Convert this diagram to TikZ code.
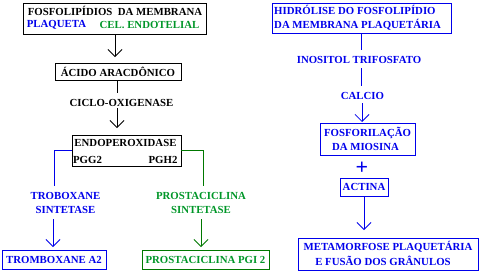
\documentclass[tikz,border=0pt]{standalone}
\usepackage{fontspec}
\setmainfont{Liberation Serif}
\usetikzlibrary{arrows.meta}
\definecolor{myblue}{RGB}{0,0,235}
\definecolor{mygreen}{RGB}{0,150,40}
\definecolor{mygreenline}{RGB}{0,120,0}
\begin{document}
\begin{tikzpicture}[x=1pt,y=-1pt,
  boxn/.style={draw,line width=0.9pt,inner sep=0pt,minimum width=#1},
  lbl/.style={font=\fontsize{10.8}{14}\selectfont\bfseries,inner sep=0pt},
  conn/.style={line width=0.8pt},
  arr/.style={line width=0.8pt,-{Straight Barb[length=7pt,width=14pt]}}]
\useasboundingbox (0,0) rectangle (479,271);
% left column
\node[boxn=183pt,minimum height=31pt] (b1) at (114.5,18.5) {};
\node[lbl] (b1t) at (115,11) {FOSFOLIPÍDIOS\ \ DA MEMBRANA};
\node[lbl,text=myblue] (b1p) at (56.5,25) {PLAQUETA};
\node[lbl,text=mygreen] (b1c) at (149.5,25) {CEL. ENDOTELIAL};
\node[boxn=126pt,minimum height=17pt,lbl] (b2) at (118,71.5) {ÁCIDO ARACDÔNICO};
\node[lbl] (cox) at (121.5,103) {CICLO-OXIGENASE};
\node[boxn=109pt,minimum height=31pt] (b3) at (126.5,150.5) {};
\node[lbl] (b3t) at (125.5,143) {ENDOPEROXIDASE};
\node[lbl] (pgg) at (87.5,160) {PGG2};
\node[lbl] (pgh) at (163,160) {PGH2};
\node[lbl,text=myblue,align=center] (trs) at (65.5,203) {TROBOXANE\\SINTETASE};
\node[lbl,text=mygreen,align=center] (prs) at (201,203) {PROSTACICLINA\\SINTETASE};
\node[boxn=104pt,minimum height=19pt,draw=myblue,text=myblue,lbl] (tx) at (54,259.5) {TROMBOXANE A2};
\node[boxn=127pt,minimum height=19pt,draw=mygreenline,text=mygreen,lbl] (pg) at (205.5,259.5) {PROSTACICLINA PGI 2};
% connectors left
\coordinate (a1) at (115,34);
\coordinate (a1e) at (115,57);
\draw[arr] (a1) -- (a1e);
\coordinate (c1) at (117,80);
\coordinate (c1e) at (117,93);
\draw[conn] (c1) -- (c1e);
\coordinate (c2) at (117,108);
\coordinate (c2e) at (117,128);
\draw[arr] (c2) -- (c2e);
\coordinate (bl1) at (72,150);
\coordinate (bl2) at (54,150);
\coordinate (bl3) at (54,186);
\draw[conn,myblue] (bl1) -- (bl2) -- (bl3);
\coordinate (bl4) at (53,219);
\coordinate (bl5) at (53,247);
\draw[arr,myblue] (bl4) -- (bl5);
\coordinate (gr1) at (181,150);
\coordinate (gr2) at (203,150);
\coordinate (gr3) at (203,186);
\draw[conn,mygreenline] (gr1) -- (gr2) -- (gr3);
\coordinate (gr4) at (201,219);
\coordinate (gr5) at (201,247);
\draw[arr,mygreenline] (gr4) -- (gr5);
% right column
\node[boxn=179pt,minimum height=30pt,draw=myblue] (hb) at (361.5,18) {};
\node[lbl,text=myblue,align=left,anchor=west] (hbt) at (274,18) {HIDRÓLISE DO FOSFOLIPÍDIO\\DA MEMBRANA PLAQUETÁRIA};
\node[lbl,text=myblue] (ino) at (359,60) {INOSITOL TRIFOSFATO};
\node[lbl,text=myblue] (cal) at (362.5,96) {CALCIO};
\node[boxn=95pt,minimum height=32pt,draw=myblue] (fos) at (367.5,139) {};
\node[lbl,text=myblue] (fos1) at (367.5,132.5) {FOSFORILAÇÃO};
\node[lbl,text=myblue] (fos2) at (365.5,147) {DA MIOSINA};
\node[text=myblue,inner sep=0pt,font=\fontsize{22}{22}\selectfont\bfseries] (plus) at (362,168.5) {+};
\node[boxn=48pt,minimum height=18pt,draw=myblue,text=myblue,lbl] (act) at (364,187) {ACTINA};
\node[boxn=180pt,minimum height=32pt,draw=myblue] (meta) at (388,254) {};
\node[lbl,text=myblue] (meta1) at (388,247) {METAMORFOSE PLAQUETÁRIA};
\node[lbl,text=myblue] (meta2) at (383,261) {E FUSÃO DOS GRÂNULOS};
\coordinate (r1) at (361,33);
\coordinate (r1e) at (361,50);
\draw[conn,myblue] (r1) -- (r1e);
\coordinate (r2) at (361,68);
\coordinate (r2e) at (361,86);
\draw[conn,myblue] (r2) -- (r2e);
\coordinate (r3) at (362,103);
\coordinate (r3e) at (362,122);
\draw[arr,myblue] (r3) -- (r3e);
\coordinate (r4) at (364,196);
\coordinate (r4e) at (364,230);
\draw[arr,myblue] (r4) -- (r4e);
\end{tikzpicture}
\end{document}
